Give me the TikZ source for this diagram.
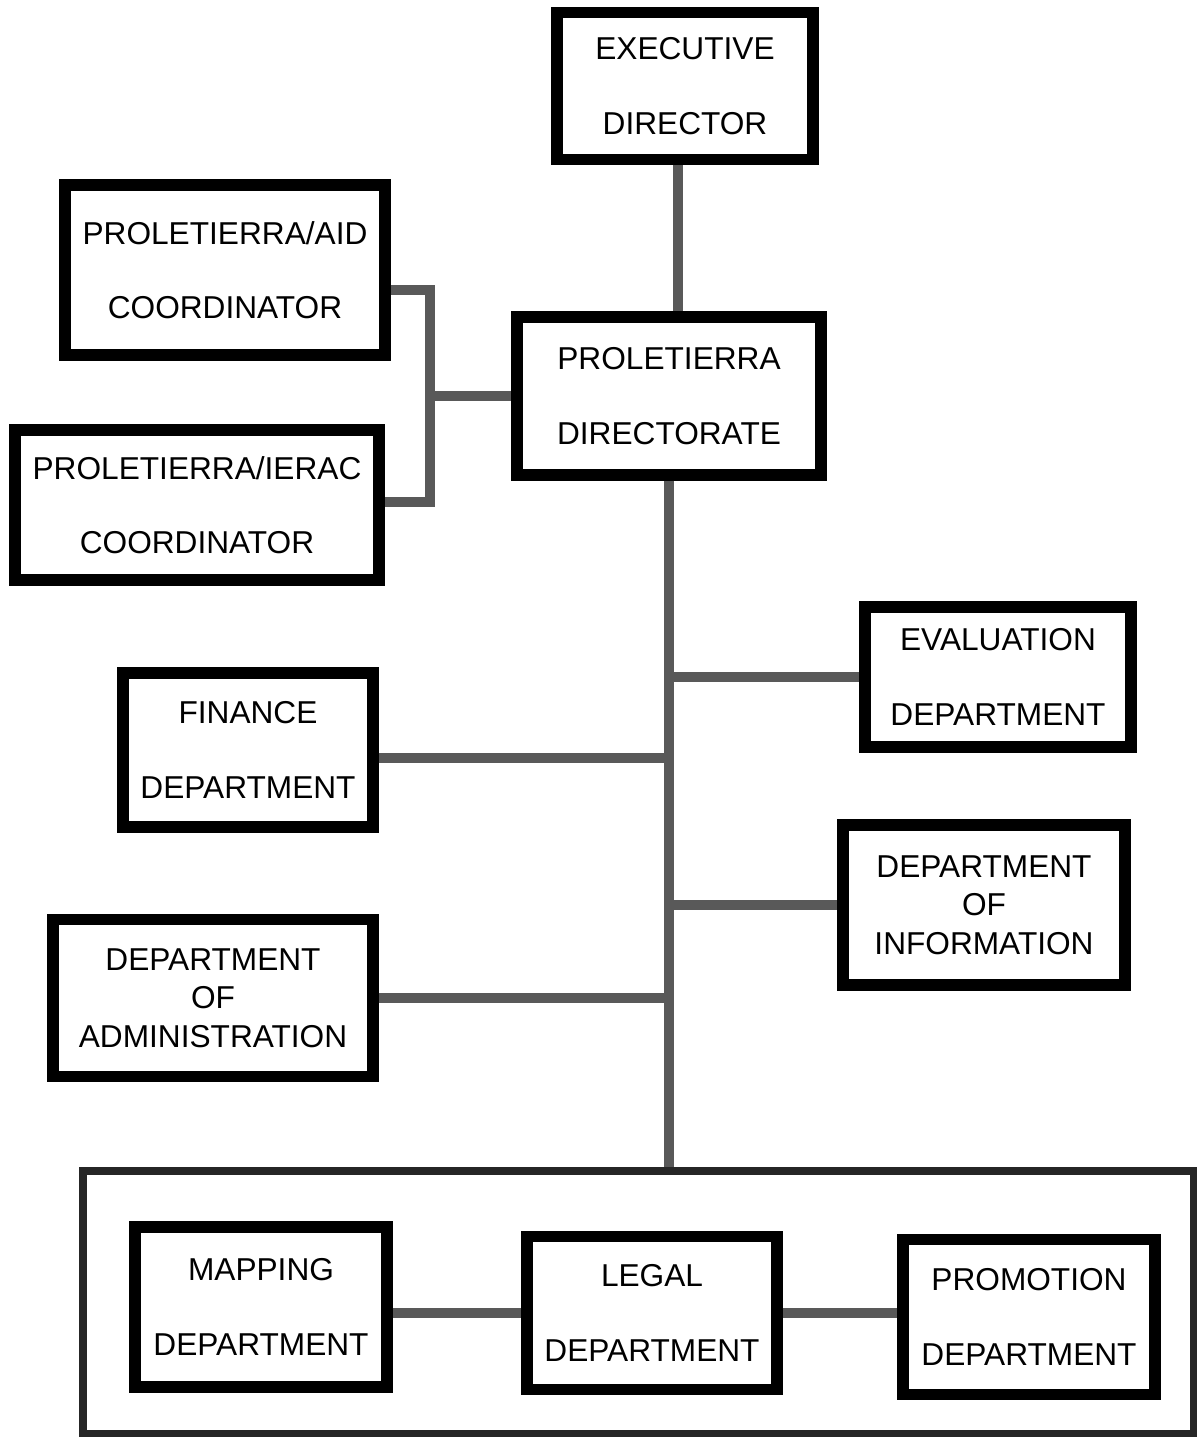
\documentclass[tikz,border=0pt]{standalone}
\usepackage{fontspec}
\setmainfont{Liberation Sans}
\usetikzlibrary{calc}
\usetikzlibrary{positioning}

\begin{document}
\begin{tikzpicture}[
    x=0.025cm, y=-0.025cm,
    dims/.style 2 args={minimum width=#1*0.025cm, minimum height=#2*0.025cm},
    box/.style={rectangle, draw=black, line width=8pt, fill=white, inner sep=0pt, align=center,
                font=\fontsize{22.5}{53}\selectfont},
    box3/.style={box, font=\fontsize{22.5}{27.3}\selectfont},
    link/.style={line width=6.5pt, black!65},
    frame/.style={rectangle, draw=black!85, line width=5pt, inner sep=0pt}
]
    \useasboundingbox (0,0) rectangle (1198,1445);

    % --- Top of the chart
    \node[box, dims={256}{147}]  (exec) at (685, 86)  {EXECUTIVE\\DIRECTOR};
    \node[box, dims={304}{158}]  (dir)  at (669, 396) {PROLETIERRA\\DIRECTORATE};

    % --- Coordinators (left):
    \node[box, dims={320}{170}]  (aid)   at (225, 270) {PROLETIERRA/AID\\COORDINATOR};
    \node[box, dims={364}{150}]  (ierac) at (197, 505) {PROLETIERRA/IERAC\\COORDINATOR};

    % --- Departments along the trunk
    \node[box, dims={266}{140}]  (eval)  at (998, 677) {EVALUATION\\DEPARTMENT};
    \node[box, dims={250}{154}]  (fin)   at (248, 750) {FINANCE\\DEPARTMENT};
    \node[box3, dims={282}{160}] (info)  at (984, 905) {DEPARTMENT\\OF\\INFORMATION};
    \node[box3, dims={320}{157}] (admin) at (213, 998) {DEPARTMENT\\OF\\ADMINISTRATION};

    % --- Bottom group
    \node[frame, dims={1110}{262}] (group) at (638, 1302) {};
    \node[box, dims={252}{160}]  (map)   at (261, 1307)  {MAPPING\\DEPARTMENT};
    \node[box, dims={250}{153}]  (legal) at (652, 1313)  {LEGAL\\DEPARTMENT};
    \node[box, dims={252}{155}]  (promo) at (1029, 1317) {PROMOTION\\DEPARTMENT};

    \coordinate (join) at (430, 396);

    % links
    \draw[link] ($(exec.south)+(-7,0)$) -- ($(dir.north)+(9,0)$);
    \draw[link] ($(aid.east)+(0,20)$) -| (join) |- ($(ierac.east)+(0,-3)$);
    \draw[link] (join) -- (dir.west);

    \draw[link] (dir.south) -- (dir.south |- group.north);
    \draw[link] (eval.west -| dir.south) -- (eval.west);
    \draw[link] ($(fin.east)+(0,8)$) -- ($(fin.east -| dir.south)+(0,8)$);
    \draw[link] (info.west -| dir.south) -- (info.west);
    \draw[link] (admin.east) -- (admin.east -| dir.south);

    \draw[link] (map.east |- legal.west) -- (legal.west);
    \draw[link] (legal.east) -- (legal.east -| promo.west);

\end{tikzpicture}
\end{document}
